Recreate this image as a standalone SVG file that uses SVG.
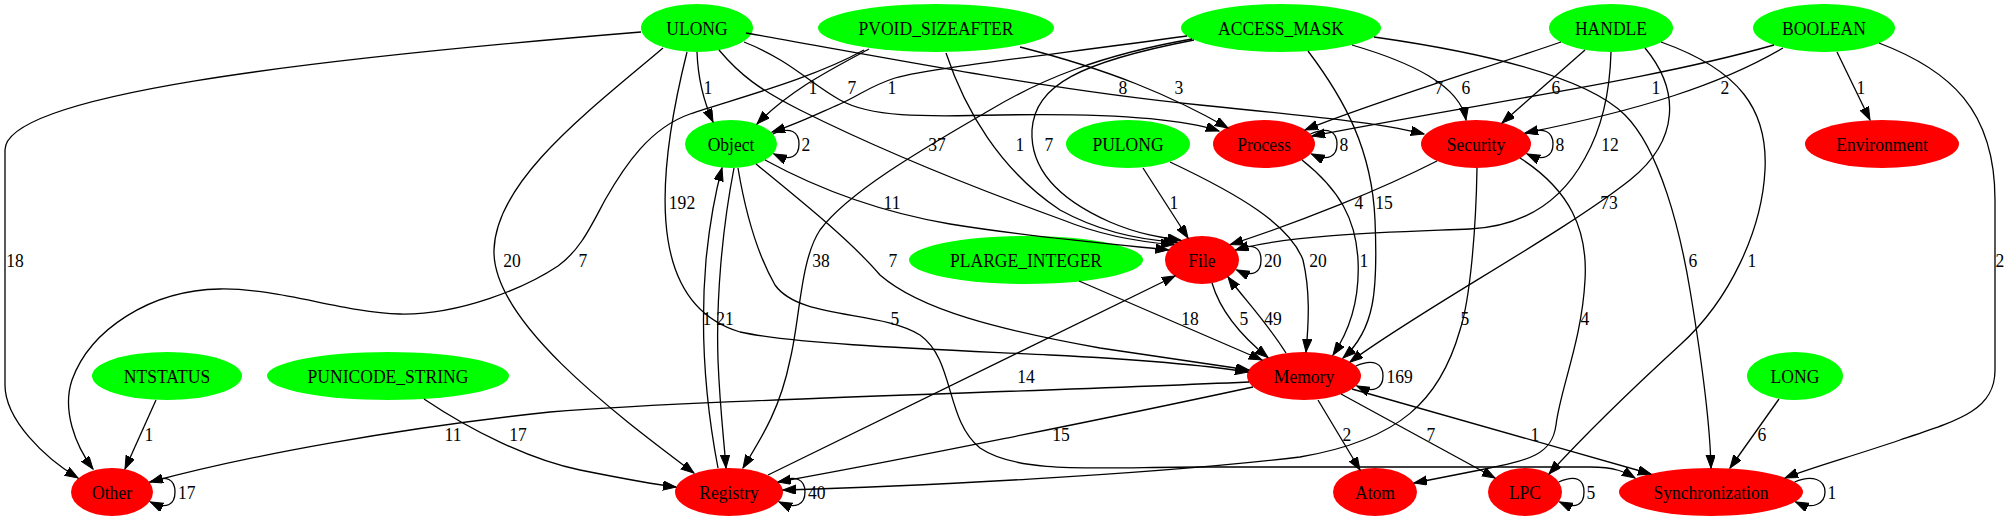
<svg xmlns="http://www.w3.org/2000/svg" width="2009" height="523" viewBox="0 0 2009 523">
<defs>
<marker id="arr" markerUnits="userSpaceOnUse" markerWidth="14" markerHeight="10" refX="13" refY="4.65" orient="auto"><path d="M0,0 L13,4.65 L0,9.3 Z" fill="#000" stroke="#000" stroke-width="1"/></marker>
</defs>
<style>
text{font-family:"Liberation Serif","Times New Roman",serif;font-size:19.5px;fill:#000;transform-box:fill-box;transform-origin:center;transform:scaleX(0.9)}
.node text{text-anchor:middle}
.g{fill:#00ff00}
.r{fill:#ff0000}
#edges path{fill:none;stroke:#000;stroke-width:1.3;marker-end:url(#arr)}
#edges text{text-anchor:middle}
#edges text.s{text-anchor:start}
</style>
<rect width="2009" height="523" fill="#fff"/>
<g id="n-ULONG" class="node"><ellipse class="g" cx="697" cy="28" rx="56" ry="24"/><text x="697" y="35">ULONG</text></g>
<g id="n-PVOID_SIZEAFTER" class="node"><ellipse class="g" cx="936" cy="28" rx="118" ry="24"/><text x="936" y="35">PVOID_SIZEAFTER</text></g>
<g id="n-ACCESS_MASK" class="node"><ellipse class="g" cx="1281" cy="28" rx="100" ry="24"/><text x="1281" y="35">ACCESS_MASK</text></g>
<g id="n-HANDLE" class="node"><ellipse class="g" cx="1611" cy="28" rx="62" ry="24"/><text x="1611" y="35">HANDLE</text></g>
<g id="n-BOOLEAN" class="node"><ellipse class="g" cx="1824" cy="28" rx="71" ry="24"/><text x="1824" y="35">BOOLEAN</text></g>
<g id="n-Object" class="node"><ellipse class="g" cx="731" cy="144" rx="46" ry="24"/><text x="731" y="151">Object</text></g>
<g id="n-PULONG" class="node"><ellipse class="g" cx="1128" cy="144" rx="62" ry="24"/><text x="1128" y="151">PULONG</text></g>
<g id="n-Process" class="node"><ellipse class="r" cx="1264" cy="144" rx="51" ry="24"/><text x="1264" y="151">Process</text></g>
<g id="n-Security" class="node"><ellipse class="r" cx="1476" cy="144" rx="55" ry="24"/><text x="1476" y="151">Security</text></g>
<g id="n-Environment" class="node"><ellipse class="r" cx="1882" cy="144" rx="77" ry="24"/><text x="1882" y="151">Environment</text></g>
<g id="n-PLARGE_INTEGER" class="node"><ellipse class="g" cx="1026" cy="260" rx="117" ry="24"/><text x="1026" y="267">PLARGE_INTEGER</text></g>
<g id="n-File" class="node"><ellipse class="r" cx="1202" cy="260" rx="37" ry="24"/><text x="1202" y="267">File</text></g>
<g id="n-NTSTATUS" class="node"><ellipse class="g" cx="167" cy="376" rx="75" ry="24"/><text x="167" y="383">NTSTATUS</text></g>
<g id="n-PUNICODE_STRING" class="node"><ellipse class="g" cx="388" cy="376" rx="121" ry="24"/><text x="388" y="383">PUNICODE_STRING</text></g>
<g id="n-Memory" class="node"><ellipse class="r" cx="1304" cy="376" rx="57" ry="24"/><text x="1304" y="383">Memory</text></g>
<g id="n-LONG" class="node"><ellipse class="g" cx="1795" cy="376" rx="48" ry="24"/><text x="1795" y="383">LONG</text></g>
<g id="n-Other" class="node"><ellipse class="r" cx="112" cy="492" rx="41" ry="24"/><text x="112" y="499">Other</text></g>
<g id="n-Registry" class="node"><ellipse class="r" cx="729" cy="492" rx="54" ry="24"/><text x="729" y="499">Registry</text></g>
<g id="n-Atom" class="node"><ellipse class="r" cx="1375" cy="492" rx="42" ry="24"/><text x="1375" y="499">Atom</text></g>
<g id="n-LPC" class="node"><ellipse class="r" cx="1525" cy="492" rx="37" ry="24"/><text x="1525" y="499">LPC</text></g>
<g id="n-Synchronization" class="node"><ellipse class="r" cx="1711" cy="492" rx="92" ry="24"/><text x="1711" y="499">Synchronization</text></g>
<g id="edges">
<path d="M641,32 C300,60 5,95 5,150 L5,385 C5,420 45,458 78,478"/>
<path d="M663,48 C590,110 496,180 494,250 C492,320 610,410 694,473"/>
<path d="M687,52 C670,120 660,190 668,240 C676,290 700,320 740,332 C800,345 950,350 1050,355 C1150,360 1210,366 1248,372"/>
<path d="M697,52 C698,80 703,100 713,122"/>
<path d="M744,42 C790,60 812,85 840,100 C870,117 920,117 1000,115 C1110,113 1180,118 1219,131"/>
<path d="M746,33 C900,60 1050,90 1200,105 C1320,117 1380,123 1424,134"/>
<path d="M719,50 C740,75 760,90 800,110 C880,150 980,190 1063,220 C1100,235 1140,242 1173.7,244.6"/>
<path d="M869,49 C830,70 790,90 757,124"/>
<path d="M864,50 C810,80 730,100 690,114 C650,128 625,165 605,200 C590,228 580,250 558,266 C525,288 460,315 400,314 C340,312 280,288 220,289 C150,290 90,330 72,380 C62,410 75,445 93,469"/>
<path d="M1020,47 C1110,70 1170,95 1228,128"/>
<path d="M946,53 C965,110 1000,170 1060,210 C1100,232 1140,240 1177.2,242.2"/>
<path d="M1187,36 C1050,55 930,68 895,78 C870,86 860,95 840,104 C815,115 795,125 772,132"/>
<path d="M1192,39 C1100,55 1040,80 990,110 C930,145 850,190 820,230 C800,260 800,320 790,360 C780,410 760,440 743,468"/>
<path d="M1194,40 C1080,62 1035,85 1032,130 C1030,170 1060,200 1110,222 C1140,235 1165,238 1180.8,240.3"/>
<path d="M1352,45 C1410,62 1460,85 1466,120"/>
<path d="M1308,51 C1345,100 1372,150 1375,220 C1378,290 1375,330 1343,358"/>
<path d="M1374,37 C1500,55 1590,80 1625,115 C1660,150 1680,230 1690,290 C1700,350 1710,420 1711,468"/>
<path d="M1561,42 C1480,70 1380,100 1305,130"/>
<path d="M1585,50 L1502,123"/>
<path d="M1611,52 C1610,90 1602,128 1585,158 C1565,195 1530,226 1470,229 C1400,232 1290,234 1235.5,250"/>
<path d="M1645,48 C1680,90 1680,140 1630,180 C1560,235 1420,310 1350,362"/>
<path d="M1661,42 C1740,70 1768,110 1765,170 C1762,230 1730,300 1680,345 C1620,400 1580,440 1549,474"/>
<path d="M1774,45 C1650,80 1500,100 1312,136"/>
<path d="M1783,48 C1720,85 1640,110 1525,133"/>
<path d="M1837,52 L1870,120"/>
<path d="M1879,43 C1950,70 1995,110 1995,200 L1995,370 C1995,410 1960,420 1900,440 C1850,457 1810,468 1785,478"/>
<path d="M765,160 C820,190 880,212 950,224 C1030,237 1110,244 1168.5,249.9"/>
<path d="M756,164 C800,200 850,240 880,275 C920,310 1000,330 1100,348 C1180,360 1220,366 1249,370"/>
<path d="M718,468 C705,400 700,330 706,260 C710,220 716,190 722,168"/>
<path d="M734,168 C722,230 716,300 718,360 C720,410 724,440 726,468"/>
<path d="M738,168 C745,210 755,250 775,285 C800,320 880,310 920,335 C955,360 945,420 980,448 C1020,475 1100,467 1200,467 L1590,467 C1615,467 1625,472 1635,478"/>
<path d="M1143,168 L1188,238"/>
<path d="M1170,162 C1240,195 1290,225 1303,260 C1310,290 1309,320 1306,352"/>
<path d="M1302,160 C1340,190 1356,220 1358,260 C1360,300 1350,330 1333,355"/>
<path d="M1437,161 C1380,190 1300,222 1230.3,244.6"/>
<path d="M1477,168 C1476,230 1470,300 1460,330 C1440,400 1400,440 1300,457 C1150,475 900,487 783,490"/>
<path d="M1520,158 C1570,190 1588,230 1585,280 C1582,340 1560,390 1556,425 C1552,455 1530,460 1480,470 C1450,476 1430,480 1414,483"/>
<path d="M1079,281 L1262,360"/>
<path d="M1212,283 C1220,310 1240,335 1268,357.5"/>
<path d="M1286,353 C1265,320 1245,300 1228,277"/>
<path d="M768,475 L1175,276"/>
<path d="M1249,382 C1000,393 700,400 550,412 C400,428 250,455 150,482"/>
<path d="M424,399 C470,430 530,460 580,470 C620,478 650,484 676,487"/>
<path d="M156,400 L125,469"/>
<path d="M1253,387 C1100,420 900,460 778,482"/>
<path d="M1318,400 L1360,470"/>
<path d="M1341,394 L1495,478"/>
<path d="M1352,389 L1651,474"/>
<path d="M1779,399 L1730,468"/>
<path d="M772.8,134 C790.8,126 799,132 799,144 C799,156 790.8,162 773.8,154"/>
<path d="M1310.4,134 C1328.4,126 1337,132 1337,144 C1337,156 1328.4,162 1311.4,154"/>
<path d="M1526,134 C1544,126 1553,132 1553,144 C1553,156 1544,162 1527,154"/>
<path d="M1235.6,250 C1253.6,242 1261,248 1261,260 C1261,272 1253.6,278 1236.6,270"/>
<path d="M1355.8,366 C1373.8,358 1383,364 1383,376 C1383,388 1373.8,394 1356.8,386"/>
<path d="M149.3,482 C167.3,474 175,480 175,492 C175,504 167.3,510 150.3,502"/>
<path d="M778.1,482 C796.1,474 805,480 805,492 C805,504 796.1,510 779.1,502"/>
<path d="M1558.6,482 C1576.6,474 1584,480 1584,492 C1584,504 1576.6,510 1559.6,502"/>
<path d="M1794.6,482 C1812.6,474 1825,480 1825,492 C1825,504 1812.6,510 1795.6,502"/>
<text x="708" y="94">1</text><text x="813" y="94">1</text><text x="852" y="94">7</text><text x="892" y="94">1</text><text x="1123" y="94">8</text><text x="1179" y="94">3</text><text x="1439" y="94">7</text><text x="1466" y="94">6</text><text x="1556" y="94">6</text><text x="1656" y="94">1</text><text x="1725" y="94">2</text><text x="1861" y="94">1</text>
<text x="937" y="151">37</text><text x="1020" y="151">1</text><text x="1049" y="151">7</text><text x="1610" y="151">12</text>
<text x="682" y="209">192</text><text x="892" y="209">11</text><text x="1174" y="209">1</text><text x="1359" y="209">4</text><text x="1384" y="209">15</text><text x="1609" y="209">73</text>
<text x="15" y="267">18</text><text x="512" y="267">20</text><text x="583" y="267">7</text><text x="821" y="267">38</text><text x="893" y="267">7</text><text x="1318" y="267">20</text><text x="1364" y="267">1</text><text x="1693" y="267">6</text><text x="1752" y="267">1</text><text x="2000" y="267">2</text>
<text x="707" y="325">1</text><text x="725" y="325">21</text><text x="895" y="325">5</text><text x="1190" y="325">18</text><text x="1244" y="325">5</text><text x="1273" y="325">49</text><text x="1465" y="325">5</text><text x="1585" y="325">4</text>
<text x="1026" y="383">14</text>
<text x="149" y="441">1</text><text x="453" y="441">11</text><text x="518" y="441">17</text><text x="1061" y="441">15</text><text x="1347" y="441">2</text><text x="1431" y="441">7</text><text x="1535" y="441">1</text><text x="1762" y="441">6</text>
<text class="s" x="801" y="151">2</text><text class="s" x="1339" y="151">8</text><text class="s" x="1555" y="151">8</text><text class="s" x="1263" y="267">20</text><text class="s" x="1385" y="383">169</text><text class="s" x="177" y="499">17</text><text class="s" x="807" y="499">40</text><text class="s" x="1586" y="499">5</text><text class="s" x="1827" y="499">1</text>
</g>
</svg>
